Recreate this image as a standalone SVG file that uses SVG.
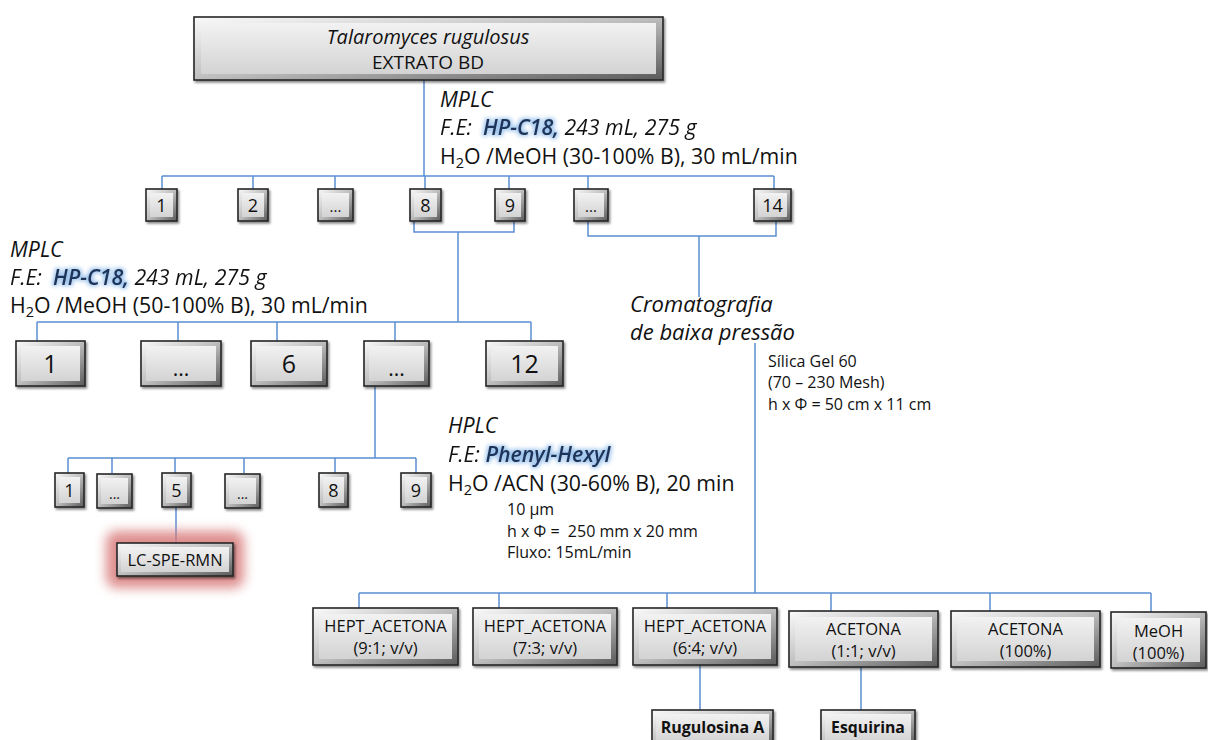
<svg xmlns="http://www.w3.org/2000/svg" width="1208" height="740" viewBox="0 0 1208 740">
<defs>
<linearGradient id="go" x1="0" y1="0" x2="1" y2="1">
<stop offset="0" stop-color="#fafafa"/><stop offset="0.5" stop-color="#bdbdbd"/><stop offset="1" stop-color="#5a5a5a"/>
</linearGradient>
<linearGradient id="gi" x1="0" y1="0" x2="0" y2="1">
<stop offset="0" stop-color="#f2f2f2"/><stop offset="1" stop-color="#d3d3d3"/>
</linearGradient>
<filter id="ds" x="-20%" y="-20%" width="140%" height="150%">
<feDropShadow dx="1.5" dy="2" stdDeviation="1.2" flood-color="#000" flood-opacity="0.45"/>
</filter>
<filter id="glow" x="-5%" y="-50%" width="110%" height="200%" color-interpolation-filters="sRGB">
<feColorMatrix in="SourceGraphic" type="matrix" values="0 0 0 0 0  0 0 0 0 0  0 0 0 0 0  -6 0 6 0 0" result="a"/>
<feMorphology in="a" operator="dilate" radius="1.4" result="d"/>
<feGaussianBlur in="d" stdDeviation="2" result="b"/>
<feFlood flood-color="#9ec4ec"/>
<feComposite in2="b" operator="in" result="gl"/>
<feMerge><feMergeNode in="gl"/><feMergeNode in="SourceGraphic"/></feMerge>
</filter>
<filter id="rglow" x="-30%" y="-60%" width="160%" height="220%">
<feGaussianBlur stdDeviation="6"/>
</filter>
<style>
.c{stroke:#5b8fd2;stroke-width:1.5;fill:none}
.o{fill:url(#go);stroke:#262626;stroke-width:1.6;filter:url(#ds)}
.i{fill:url(#gi)}
.t{font-family:"Open Sans","Liberation Sans",sans-serif;fill:#111}
.m{text-anchor:middle}
.it{font-style:italic}
.hl{fill:#1d3358;font-weight:600}
.big{font-size:21.3px}
.sm{font-size:16px}
.bx{font-size:16.5px}
</style>
</defs>

<g id="connectors">
<path class="c" d="M424 80V176M162 176H774M162 176V189M253 176V189M335 176V189M425 176V189M509 176V189M588 176V189M774 176V189"/>
<path class="c" d="M414 221V232H514V221M458 232V322"/>
<path class="c" d="M588 221V236H776V221M699 236V297"/>
<path class="c" d="M37 322H531M37 322V341M178 322V341M277 322V341M395 322V341M531 322V341"/>
<path class="c" d="M375 386V458"/>
<path class="c" d="M68 458H416M68 458V473M112 458V473M175 458V473M244 458V473M335 458V473M416 458V473"/>
<path class="c" d="M176 506V543"/>
<path class="c" d="M755 343V593"/>
<path class="c" d="M359 593H1151M359 593V608M499 593V608M667 593V608M831 593V611M990 593V611M1151 593V612"/>
<path class="c" d="M700 665V710M861 667V710"/>
</g>

<g id="root">
<rect class="o" x="194" y="17" width="469" height="63"/>
<rect class="i" x="201" y="23" width="455" height="51"/>
<text class="t m it" x="428" y="44" font-size="20">Talaromyces rugulosus</text>
<text class="t m" x="428" y="69" font-size="19">EXTRATO BD</text>
</g>

<g id="label-mplc1">
<text class="t it big" x="440" y="107">MPLC</text>
<text class="t it big" x="440" y="135" xml:space="preserve" filter="url(#glow)">F.E:  <tspan class="hl">HP-C18,</tspan> 243 mL, 275 g</text>
<text class="t big" x="440" y="164">H<tspan font-size="14.5" dy="4">2</tspan><tspan dy="-4">O /MeOH (30-100% B), 30 mL/min</tspan></text>
</g>

<g id="row1">
<g id="r1-1"><rect class="o" x="146" y="189" width="31" height="32"/><rect class="i" x="150" y="193" width="23" height="24"/><text class="t m" x="161.5" y="212" font-size="18">1</text></g>
<g id="r1-2"><rect class="o" x="238" y="189" width="30" height="32"/><rect class="i" x="242" y="193" width="22" height="24"/><text class="t m" x="253" y="212" font-size="18">2</text></g>
<g id="r1-3"><rect class="o" x="318" y="189" width="35" height="32"/><rect class="i" x="322" y="193" width="27" height="24"/><text class="t m" x="335.5" y="212" font-size="15">...</text></g>
<g id="r1-8"><rect class="o" x="410" y="189" width="31" height="32"/><rect class="i" x="414" y="193" width="23" height="24"/><text class="t m" x="425.5" y="212" font-size="18">8</text></g>
<g id="r1-9"><rect class="o" x="495" y="189" width="30" height="32"/><rect class="i" x="499" y="193" width="22" height="24"/><text class="t m" x="510" y="212" font-size="18">9</text></g>
<g id="r1-10"><rect class="o" x="574" y="189" width="34" height="32"/><rect class="i" x="578" y="193" width="26" height="24"/><text class="t m" x="591" y="212" font-size="15">...</text></g>
<g id="r1-14"><rect class="o" x="754" y="189" width="37" height="32"/><rect class="i" x="758" y="193" width="29" height="24"/><text class="t m" x="772.5" y="212" font-size="18">14</text></g>
</g>

<g id="label-mplc2">
<text class="t it big" x="10" y="257">MPLC</text>
<text class="t it big" x="10" y="285" xml:space="preserve" filter="url(#glow)">F.E:  <tspan class="hl">HP-C18,</tspan> 243 mL, 275 g</text>
<text class="t big" x="10" y="313">H<tspan font-size="14.5" dy="4">2</tspan><tspan dy="-4">O /MeOH (50-100% B), 30 mL/min</tspan></text>
</g>

<g id="label-crom">
<text class="t it" x="630" y="312" font-size="22">Cromatografia</text>
<text class="t it" x="630" y="340" font-size="22">de baixa pressão</text>
<text class="t sm" x="768" y="367">Sílica Gel 60</text>
<text class="t sm" x="768" y="388">(70 – 230 Mesh)</text>
<text class="t sm" x="768" y="410">h x Φ = 50 cm x 11 cm</text>
</g>

<g id="row2">
<g id="r2-1"><rect class="o" x="16" y="341" width="69" height="45"/><rect class="i" x="21" y="346" width="59" height="35"/><text class="t m" x="50.5" y="373" font-size="25">1</text></g>
<g id="r2-2"><rect class="o" x="141" y="341" width="80" height="45"/><rect class="i" x="146" y="346" width="70" height="35"/><text class="t m" x="181" y="376" font-size="21">...</text></g>
<g id="r2-6"><rect class="o" x="251" y="341" width="76" height="45"/><rect class="i" x="256" y="346" width="66" height="35"/><text class="t m" x="289" y="373" font-size="25">6</text></g>
<g id="r2-7"><rect class="o" x="364" y="341" width="65" height="45"/><rect class="i" x="369" y="346" width="55" height="35"/><text class="t m" x="396.5" y="376" font-size="21">...</text></g>
<g id="r2-12"><rect class="o" x="486" y="341" width="77" height="45"/><rect class="i" x="491" y="346" width="67" height="35"/><text class="t m" x="524.5" y="373" font-size="25">12</text></g>
</g>

<g id="label-hplc">
<text class="t it big" x="448" y="433">HPLC</text>
<text class="t it big" x="448" y="462" filter="url(#glow)">F.E: <tspan class="hl">Phenyl-Hexyl</tspan></text>
<text class="t big" x="448" y="491">H<tspan font-size="14.5" dy="4">2</tspan><tspan dy="-4">O /ACN (30-60% B), 20 min</tspan></text>
<text class="t sm" x="507" y="515">10 µm</text>
<text class="t sm" x="507" y="537" xml:space="preserve">h x Φ =  250 mm x 20 mm</text>
<text class="t sm" x="507" y="558">Fluxo: 15mL/min</text>
</g>

<g id="row3">
<g id="r3-1"><rect class="o" x="55" y="473" width="29" height="34"/><rect class="i" x="59" y="477" width="21" height="26"/><text class="t m" x="69.5" y="497" font-size="18">1</text></g>
<g id="r3-2"><rect class="o" x="97" y="474" width="35" height="34"/><rect class="i" x="101" y="478" width="27" height="26"/><text class="t m" x="114.5" y="499" font-size="14">...</text></g>
<g id="r3-5"><rect class="o" x="162" y="473" width="29" height="34"/><rect class="i" x="166" y="477" width="21" height="26"/><text class="t m" x="176.5" y="497" font-size="18">5</text></g>
<g id="r3-6"><rect class="o" x="225" y="474" width="35" height="34"/><rect class="i" x="229" y="478" width="27" height="26"/><text class="t m" x="242.5" y="499" font-size="14">...</text></g>
<g id="r3-8"><rect class="o" x="319" y="473" width="29" height="34"/><rect class="i" x="323" y="477" width="21" height="26"/><text class="t m" x="333.5" y="497" font-size="18">8</text></g>
<g id="r3-9"><rect class="o" x="401" y="473" width="30" height="34"/><rect class="i" x="405" y="477" width="22" height="26"/><text class="t m" x="416" y="497" font-size="18">9</text></g>
</g>

<g id="lcspe">
<rect x="106" y="531" width="138" height="57" rx="10" fill="#d97a7a" opacity="0.85" filter="url(#rglow)"/>
<rect class="o" x="117" y="543" width="116" height="33"/>
<rect class="i" x="121" y="547" width="108" height="25"/>
<text class="t m" x="175" y="566" font-size="16.5">LC-SPE-RMN</text>
</g>

<g id="row4">
<g id="b-hept1"><rect class="o" x="313" y="608" width="145" height="57"/><rect class="i" x="319" y="614" width="133" height="45"/><text class="t m bx" x="385.5" y="632">HEPT_ACETONA</text><text class="t m bx" x="385.5" y="654">(9:1; v/v)</text></g>
<g id="b-hept2"><rect class="o" x="473" y="608" width="144" height="57"/><rect class="i" x="479" y="614" width="132" height="45"/><text class="t m bx" x="545" y="632">HEPT_ACETONA</text><text class="t m bx" x="545" y="654">(7:3; v/v)</text></g>
<g id="b-hept3"><rect class="o" x="633" y="608" width="144" height="57"/><rect class="i" x="639" y="614" width="132" height="45"/><text class="t m bx" x="705" y="632">HEPT_ACETONA</text><text class="t m bx" x="705" y="654">(6:4; v/v)</text></g>
<g id="b-acet1"><rect class="o" x="789" y="611" width="149" height="56"/><rect class="i" x="795" y="617" width="137" height="44"/><text class="t m bx" x="863.5" y="635">ACETONA</text><text class="t m bx" x="863.5" y="657">(1:1; v/v)</text></g>
<g id="b-acet2"><rect class="o" x="951" y="611" width="149" height="56"/><rect class="i" x="957" y="617" width="137" height="44"/><text class="t m bx" x="1025.5" y="635">ACETONA</text><text class="t m bx" x="1025.5" y="657">(100%)</text></g>
<g id="b-meoh"><rect class="o" x="1111" y="612" width="95" height="56"/><rect class="i" x="1117" y="618" width="83" height="44"/><text class="t m bx" x="1158.5" y="637">MeOH</text><text class="t m bx" x="1158.5" y="659">(100%)</text></g>
</g>

<g id="results">
<g id="rugulosina"><rect class="o" x="652" y="710" width="121" height="36"/><rect class="i" x="656" y="714" width="113" height="28"/><text class="t m" x="712.5" y="733" font-size="16" font-weight="bold">Rugulosina A</text></g>
<g id="esquirina"><rect class="o" x="821" y="710" width="94" height="36"/><rect class="i" x="825" y="714" width="86" height="28"/><text class="t m" x="868" y="733" font-size="15.8" font-weight="bold">Esquirina</text></g>
</g>
</svg>
